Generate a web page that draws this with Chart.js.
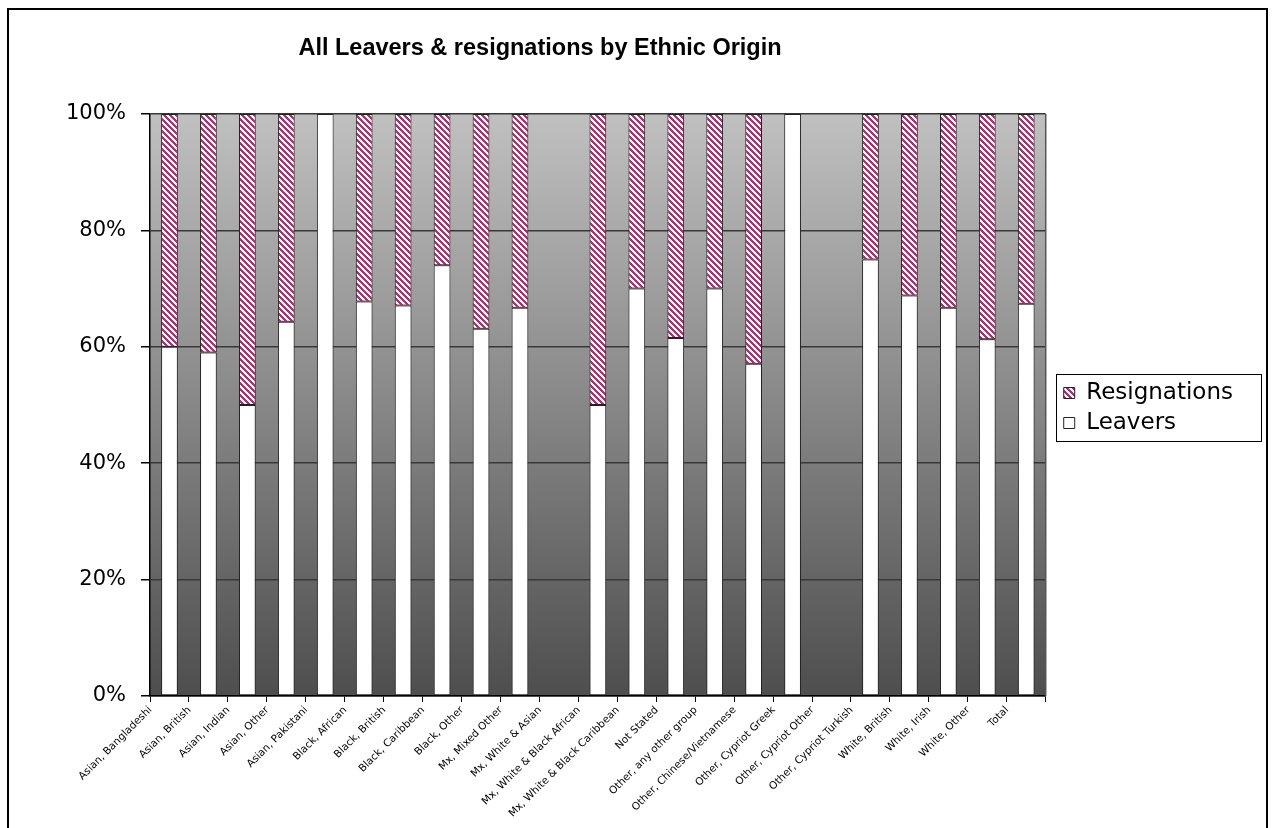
<!DOCTYPE html>
<html><head><meta charset="utf-8">
<script src="https://cdn.jsdelivr.net/npm/chart.js@4.4.0/dist/chart.umd.min.js"></script>
<style>html,body{margin:0;padding:0;background:#fff;overflow:hidden}</style>
</head><body>
<canvas id="c" width="1275" height="828"></canvas>
<script>
const chartTitle = 'All Leavers & resignations by Ethnic Origin';
const categories = [
  'Asian, Bangladeshi','Asian, British','Asian, Indian','Asian, Other','Asian, Pakistani',
  'Black, African','Black, British','Black, Caribbean','Black, Other','Mx, Mixed Other',
  'Mx, White & Asian','Mx, White & Black African','Mx, White & Black Caribbean','Not Stated',
  'Other, any other group','Other, Chinese/Vietnamese','Other, Cypriot Greek','Other, Cypriot Other',
  'Other, Cypriot Turkish','White, British','White, Irish','White, Other','Total'
];
const leavers = [60, 59, 50, 64.3, 100, 67.8, 67.1, 74, 63.1, 66.7, null, 50, 70, 61.5, 70, 57.1, 100, null, 75, 68.8, 66.7, 61.3, 67.4];
const resignations = [40, 41, 50, 35.7, 0, 32.2, 32.9, 26, 36.9, 33.3, null, 50, 30, 38.5, 30, 42.9, 0, null, 25, 31.2, 33.3, 38.7, 32.6];
const yTicks = [0, 20, 40, 60, 80, 100];

const canvas = document.getElementById('c');
const ctx = canvas.getContext('2d');
const tile = document.createElement('canvas');
tile.width = 6; tile.height = 6;
const tc = tile.getContext('2d');
tc.fillStyle = '#fbf4f8'; tc.fillRect(0, 0, 6, 6);
tc.fillStyle = '#9c3a6c';
for (let i = 0; i < 6; i++) for (let j = 0; j < 6; j++) if ((((i - j) % 6) + 6) % 6 < 3) tc.fillRect(i, j, 1, 1);
const hatchPattern = ctx.createPattern(tile, 'repeat');

const decor = {
  id: 'decor',
  afterLayout(chart) {
    chart.legend.left += 11;
    chart.legend.right += 11;
    chart.legend.top += 3;
    chart.legend.bottom += 3;
  },
  beforeDraw(chart) {
    const c = chart.ctx, a = chart.chartArea;
    c.save();
    c.fillStyle = '#ffffff';
    c.fillRect(0, 0, chart.width, chart.height);
    const g = c.createLinearGradient(0, a.top, 0, a.bottom);
    g.addColorStop(0, '#c0c0c0');
    g.addColorStop(1, '#4e4e4e');
    c.fillStyle = g;
    c.fillRect(a.left, a.top, a.right - a.left, a.bottom - a.top);
    c.restore();
  },
  afterDraw(chart) {
    const c = chart.ctx, a = chart.chartArea;
    c.save();
    c.strokeStyle = '#555555'; c.lineWidth = 1.5;
    c.beginPath(); c.moveTo(a.right, a.top); c.lineTo(a.right, a.bottom); c.stroke();
    const lg = chart.legend;
    const pad = lg.options.labels.padding;
    const col = lg.columnSizes[0];
    const x0 = lg.left + pad;
    const y0 = (lg.top + pad + lg.bottom - col.height) / 2;
    c.strokeStyle = '#000000'; c.lineWidth = 1;
    c.strokeRect(Math.round(x0 - 8) + 0.5, Math.round(y0 - 8) + 0.5, Math.round(col.width + 36), Math.round(col.height - pad + 14));
    c.lineWidth = 2;
    c.strokeRect(8, 9, 1259, 840);
    c.fillStyle = '#000000';
    c.font = 'bold 23.5px "Liberation Sans", Arial, sans-serif';
    c.textAlign = 'center'; c.textBaseline = 'middle';
    c.fillText(chartTitle, 540, 49);
    c.restore();
  }
};

new Chart(ctx, {
  type: 'bar',
  data: {
    labels: categories,
    datasets: [
      { label: 'Leavers', data: leavers, backgroundColor: '#ffffff', borderColor: '#222222', borderWidth: 1, borderSkipped: false, barPercentage: 0.43, categoryPercentage: 1 },
      { label: 'Resignations', data: resignations, backgroundColor: hatchPattern, borderColor: '#222222', borderWidth: 1, borderSkipped: false, barPercentage: 0.43, categoryPercentage: 1 }
    ]
  },
  options: {
    responsive: false,
    animation: false,
    devicePixelRatio: 1,
    layout: { padding: { left: 0, top: 114, right: 43, bottom: 8 } },
    plugins: {
      title: { display: false },
      tooltip: { enabled: false },
      legend: {
        position: 'right', fullSize: false, reverse: true, align: 'center',
        labels: { boxWidth: 11, boxHeight: 11, padding: 7, color: '#000000', font: { family: '"DejaVu Sans", sans-serif', size: 23 } }
      }
    },
    scales: {
      x: {
        stacked: true,
        grid: { display: true, drawOnChartArea: false, drawTicks: true, tickLength: 6, tickColor: '#000000', offset: true },
        border: { display: true, color: '#000000', width: 1.5 },
        ticks: { autoSkip: false, minRotation: 45, maxRotation: 45, color: '#000000', padding: 2, labelOffset: -19, font: { family: '"DejaVu Sans", sans-serif', size: 10.4 } },
        afterFit(s) { s.height = 124; }
      },
      y: {
        stacked: true, min: 0, max: 100,
        afterBuildTicks(s) { s.ticks = yTicks.map(v => ({ value: v })); },
        ticks: { color: '#000000', padding: 15, font: { family: '"DejaVu Sans", sans-serif', size: 21 }, callback: v => v + '%' },
        grid: { color: '#383838', lineWidth: 1.5, tickLength: 9, tickColor: '#000000', drawTicks: true },
        border: { display: true, color: '#000000', width: 1.5 },
        afterFit(s) { s.width = 150; }
      }
    }
  },
  plugins: [decor]
});
</script>
</body></html>
